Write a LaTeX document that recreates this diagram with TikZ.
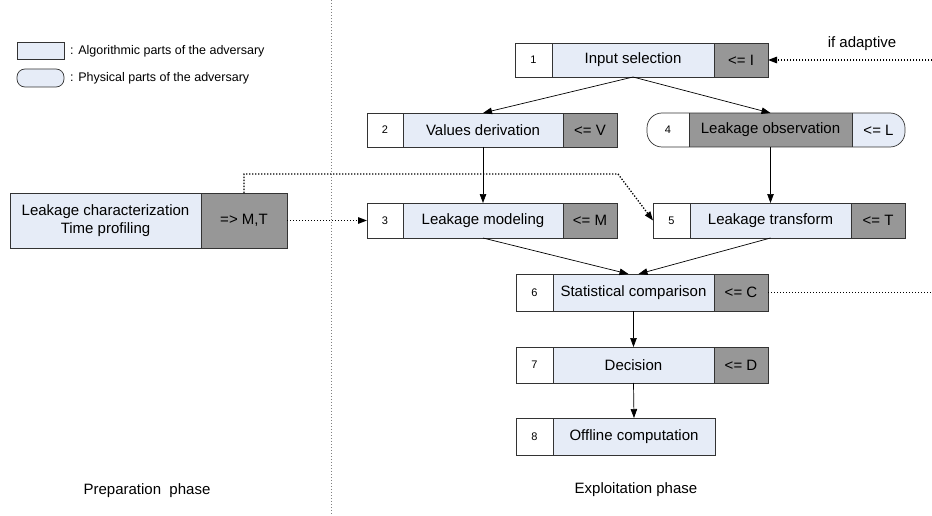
\documentclass[tikz,border=0pt]{standalone}
\usepackage{fontspec}
\setmainfont{Liberation Sans}
\usetikzlibrary{arrows.meta}
\pgfdeclarelayer{background}
\pgfsetlayers{background,main}
\definecolor{lb}{HTML}{E6ECF7}
\definecolor{dk}{HTML}{979797}
\definecolor{edge}{HTML}{333333}
\tikzset{
  cellbase/.style={inner sep=0pt, outer sep=0pt, draw=edge, line width=0.7pt, align=center},
  numcell/.style={cellbase, fill=white, font=\fontsize{11}{13}\selectfont},
  maincell/.style={cellbase, fill=lb, font=\fontsize{15}{18}\selectfont},
  darkcell/.style={cellbase, fill=dk, font=\fontsize{15}{18}\selectfont},
  bare/.style={inner sep=0pt, outer sep=0pt, align=center},
  arr/.style={-{Triangle[length=9pt,width=6.5pt]}, line width=0.7pt, black},
  dotline/.style={line width=1.3pt, dash pattern=on 1.3pt off 1.7pt, black},
  lbl/.style={inner sep=0pt, font=\fontsize{15}{18}\selectfont},
  leg/.style={inner sep=0pt, anchor=west, font=\fontsize{12.5}{15}\selectfont},
}
\begin{document}
\begin{tikzpicture}[x=1pt,y=-1pt]
\useasboundingbox (0,0) rectangle (932,516);

% phase separator
\coordinate (sepT) at (331,0);
\coordinate (sepB) at (331,516);
\draw[line width=1pt, gray, dash pattern=on 1.3pt off 1.7pt] (sepT) -- (sepB);

% legend
\node[cellbase, fill=lb, minimum width=47, minimum height=17] (legA) at (40.5,51) {};
\node[cellbase, fill=lb, minimum width=47, minimum height=18, rounded corners=8] (legP) at (40.5,78) {};
\node[leg] (legAt) at (70,51) {: Algorithmic parts of the adversary};
\node[leg] (legPt) at (70,78) {: Physical parts of the adversary};

% box 1
\node[numcell, minimum width=37, minimum height=34] (n1) at (533.5,60) {1};
\node[maincell, minimum width=162, minimum height=34] (m1) at (633,60) {Input selection};
\node[darkcell, minimum width=54, minimum height=34] (r1) at (741,60) {<= I};

% box 2
\node[numcell, minimum width=36, minimum height=34] (n2) at (385,130) {2};
\node[maincell, minimum width=160, minimum height=34] (m2) at (483,130) {Values derivation};
\node[darkcell, minimum width=54, minimum height=34] (r2) at (590,130) {<= V};

% box 3
\node[numcell, minimum width=36, minimum height=35] (n3) at (385,220.5) {3};
\node[maincell, minimum width=160, minimum height=35] (m3) at (483,220.5) {Leakage modeling};
\node[darkcell, minimum width=54, minimum height=35] (r3) at (590,220.5) {<= M};

% box 4 (physical)
\node[bare, font=\fontsize{11}{13}\selectfont, minimum width=42, minimum height=34] (n4) at (668,130) {4};
\node[bare, font=\fontsize{15}{18}\selectfont, minimum width=163, minimum height=34] (m4) at (770.5,130) {Leakage observation};
\node[bare, font=\fontsize{15}{18}\selectfont, minimum width=53, minimum height=34] (r4) at (878.5,130) {<= L};
\begin{pgfonlayer}{background}
\begin{scope}
\clip[rounded corners=15] (n4.north west) rectangle (r4.south east);
\fill[white] (n4.north west) rectangle (n4.south east);
\fill[dk] (m4.north west) rectangle (m4.south east);
\fill[lb] (r4.north west) rectangle (r4.south east);
\end{scope}
\end{pgfonlayer}
\draw[edge, line width=0.7pt, rounded corners=15] (n4.north west) rectangle (r4.south east);
\draw[edge, line width=0.7pt] (n4.north east) -- (n4.south east);
\draw[edge, line width=0.7pt] (m4.north east) -- (m4.south east);

% box 5
\node[numcell, minimum width=37, minimum height=35] (n5) at (671.5,220.5) {5};
\node[maincell, minimum width=161, minimum height=35] (m5) at (770.5,220.5) {Leakage transform};
\node[darkcell, minimum width=54, minimum height=35] (r5) at (878,220.5) {<= T};

% box 6
\node[numcell, minimum width=37, minimum height=37] (n6) at (534.5,292.5) {6};
\node[maincell, minimum width=161, minimum height=37] (m6) at (633.5,292.5) {Statistical comparison};
\node[darkcell, minimum width=54, minimum height=37] (r6) at (741,292.5) {<= C};

% box 7
\node[numcell, minimum width=37, minimum height=36] (n7) at (534.5,365) {7};
\node[maincell, minimum width=161, minimum height=36] (m7) at (633.5,365) {Decision};
\node[darkcell, minimum width=54, minimum height=36] (r7) at (741,365) {<= D};

% box 8
\node[numcell, minimum width=37, minimum height=37] (n8) at (534.5,436.5) {8};
\node[maincell, minimum width=162, minimum height=37] (m8) at (634,436.5) {Offline computation};

% preparation box
\node[maincell, minimum width=191, minimum height=55] (l0) at (105.5,220.5) {Leakage characterization\\Time profiling};
\node[darkcell, minimum width=86, minimum height=55] (r0) at (244,220.5) {=> M,T};

% solid connectors
\draw[arr] (m1.south) -- (m2.north);
\draw[arr] (m1.south) -- (m4.north);
\draw[arr] (m2.south) -- (m3.north);
\draw[arr] (m4.south) -- (m5.north);
\draw[arr] (m3.south) -- ([xshift=-5pt]m6.north);
\draw[arr] (m5.south) -- ([xshift=5pt]m6.north);
\draw[arr] (m6.south) -- (m7.north);
\draw[arr] (m7.south) -- (m8.north);

% dotted connectors
\coordinate (adapt) at (932,60);
\coordinate (cout) at (932,292.5);
\coordinate (bend) at (618,174);
\draw[dotline, -{Triangle[length=9pt,width=6.5pt]}] (adapt) -- (r1.east);
\node[lbl] (adaptlbl) at (862,44) {if adaptive};
\draw[dotline] (r6.east) -- (cout);
\draw[dotline, -{Triangle[length=9pt,width=6.5pt]}] (r0.east) -- (n3.west);
\draw[dotline, -{Triangle[length=9pt,width=6.5pt]}] (r0.north) -- (r0.north |- bend) -- (bend) -- (n5.west);

% phase labels
\node[lbl] (prep) at (147,491) {Preparation\ \ phase};
\node[lbl] (expl) at (636,490) {Exploitation phase};
\end{tikzpicture}
\end{document}
